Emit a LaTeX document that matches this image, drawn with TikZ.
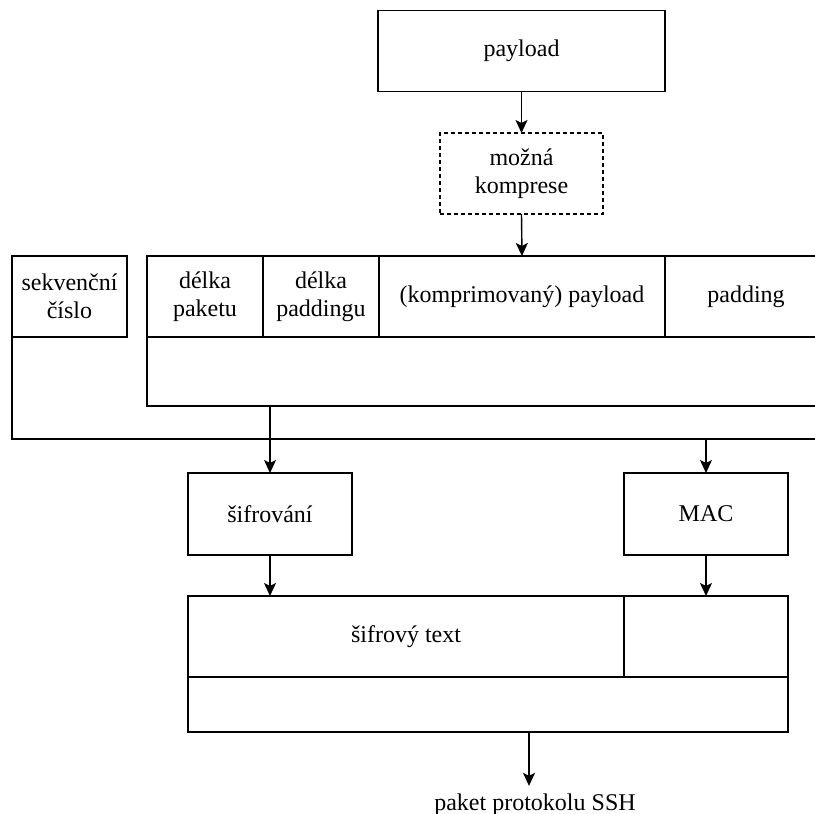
\documentclass[tikz,border=0pt]{standalone}
\usepackage{fontspec}
\setmainfont{Liberation Serif}
\usetikzlibrary{arrows.meta}
\begin{document}
\begin{tikzpicture}[
  x=1pt, y=-1pt,
  line width=1.4pt,
  every node/.style={font=\rmfamily\fontsize{24}{27.6}\selectfont, align=center, inner sep=0pt, outer sep=0pt},
  cell/.style={draw, rectangle, minimum width=#1},
  cell/.default=100pt,
  arr/.style={-{Stealth[length=13pt, width=12pt, inset=3pt]}},
  maybebox/.style={draw, line width=1.2pt, dash pattern=on 4pt off 3pt},
]
\useasboundingbox (0,0) rectangle (815,814);
\clip (0,0) rectangle (815,814);

% input and optional compression
\node[cell=287pt, minimum height=81pt] (pay) at (521.5,51) {payload};
\node[maybebox, minimum width=163pt, minimum height=81pt] (komp) at (521.5,173.5) {možná\\komprese};

% sequence number and packet fields
\node[cell=115pt, minimum height=81pt] (seq) at (69.5,296.5) {sekvenční\\číslo};
\node[cell=116pt, minimum height=81pt] (len) at (205,296.5) {délka\\paketu};
\node[cell=116pt, minimum height=81pt] (padlen) at (321,296.5) {délka\\paddingu};
\node[cell=286pt, minimum height=81pt] (data) at (522,296.5) {(komprimovaný) payload};
\node[cell=162pt, minimum height=81pt] (pad) at (746,296.5) {padding};
\node[cell=680pt, minimum height=69pt] (pkt) at (487,371.5) {};

% outline around sequence number and packet
\coordinate (obot) at (seq.south west |- 0,439);
\draw (seq.south west) -- (obot) -- (880,439);

% processing steps
\node[cell=164pt, minimum height=82pt] (enc) at (270,514) {šifrování};
\node[cell=164pt, minimum height=82pt] (mac) at (706,514) {MAC};

% resulting packet
\node[cell=436pt, minimum height=81pt] (ct) at (406,636.5) {šifrový text};
\node[cell=164pt, minimum height=81pt] (tag) at (706,636.5) {};
\node[cell=600pt, minimum height=55pt] (bot) at (488,704.5) {};
\node[anchor=base, inner ysep=7.5pt] (out) at (535,810) {paket protokolu SSH};

% connectors
\draw[arr] (pay.south) -- (komp.north);
\draw[arr] (komp.south) -- (data.north);
\draw[arr] (enc.north |- pkt.south) -- (enc.north);
\draw[arr] (mac.north |- obot) -- (mac.north);
\draw[arr] (enc.south) -- (enc.south |- ct.north);
\draw[arr] (mac.south) -- (tag.north);
\draw[arr] ([xshift=41pt]bot.south) -- ([xshift=-6pt]out.north);
\end{tikzpicture}
\end{document}
